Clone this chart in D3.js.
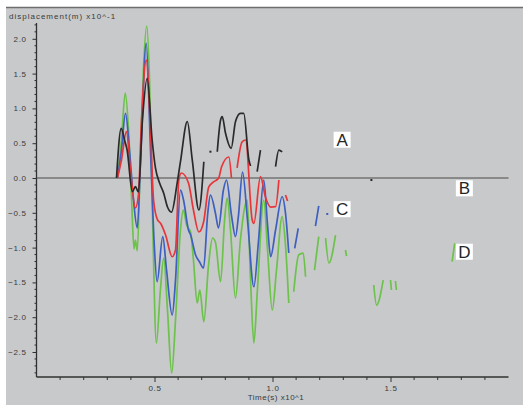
<!DOCTYPE html>
<html>
<head>
<meta charset="utf-8">
<script src="https://cdn.jsdelivr.net/npm/d3@7"></script>
<style>
  html, body { margin: 0; padding: 0; background: #ffffff; }
  svg { display: block; }
  text { font-family: "Liberation Sans", Arial, sans-serif; }
</style>
</head>
<body>
<svg id="chart" width="523" height="405"></svg>
<script>
// Displacement traces: [time (s x10^1), displacement (m x10^-1)], null breaks a trace.
const traceA = [
  [0.339, 0], [0.359, 0.714], [0.373, 0.546], [0.384, 0.402], [0.406, -0.197],
  [0.419, -0.125], [0.432, -0.201], [0.449, 0.833], [0.469, 1.432], [0.490, 0.546],
  [0.504, 0.144], [0.522, -0.076], [0.539, -0.220], [0.555, -0.417], [0.572, -0.489],
  [0.596, -0.072], [0.610, 0.234], [0.639, 0.809], [0.660, 0.259], [0.688, -0.460],
  [0.709, 0.234], null,
  [0.737, 0.378], null,
  [0.766, 0.378], [0.780, 0.833], [0.787, 0.881],
  [0.801, 0.642], [0.825, 0.427], [0.843, 0.809], [0.864, 0.930], [0.878, 0.930],
  [0.900, 0.259], [0.907, 0.172], null,
  [0.935, 0.091], [0.949, 0.402], null,
  [1.013, 0.162], [1.027, 0.402], [1.041, 0.374], null,
  [1.419, -0.029]
];
const traceB = [
  [0.343, 0], [0.360, 0.259], [0.381, 0.665], [0.398, 0.115], [0.419, -0.431],
  [0.432, -0.244], [0.445, 0.833], [0.465, 1.695], [0.483, 0.690], [0.496, -0.316],
  [0.513, -0.603], [0.525, -0.647], [0.547, -0.819], [0.575, -1.131], [0.589, -1.034],
  [0.603, -0.029], [0.614, 0.072], [0.644, -0.072], [0.665, -0.460], [0.688, -0.776],
  [0.708, -0.632], [0.730, -0.129], [0.750, -0.057], [0.772, 0], [0.784, 0.158],
  [0.815, 0.302], [0.826, 0], null,
  [0.850, 0.144], [0.871, 0.517], [0.886, 0.546], [0.914, -0.603], [0.921, -0.651],
  [0.949, 0.019], [0.970, -0.273], [0.992, -0.417], [1.013, -0.412], [1.027, -0.029], null,
  [1.055, -0.244], [1.064, -0.330]
];
const traceC = [
  [0.343, 0], [0.360, 0.402], [0.377, 0.930], [0.394, 0.402], [0.411, -0.316],
  [0.427, -0.718], [0.441, 0.259], [0.465, 1.935], [0.483, 0.402], [0.498, -0.891],
  [0.511, -1.490], [0.535, -0.843], [0.551, -1.322], [0.575, -1.968], [0.589, -1.466],
  [0.610, -0.172], [0.623, -0.316], [0.644, -0.747], [0.653, -0.819], [0.674, -1.106],
  [0.691, -1.207], [0.708, -1.293], [0.725, -0.532], [0.737, -0.244], [0.758, -0.503],
  [0.771, -0.718], [0.792, -0.172], [0.805, -0.029], [0.826, -0.532], [0.843, -0.843],
  [0.856, -0.532], [0.873, 0.086], [0.894, -0.603], [0.921, -1.562], [0.941, -0.891],
  [0.963, -0.029], [0.979, -0.675], [0.992, -1.131], [1.013, -0.747], [1.041, -0.269],
  [1.055, -0.503], [1.069, -1.078], null,
  [1.094, -1.010], [1.109, -0.723], null,
  [1.182, -0.690], [1.196, -0.402], null,
  [1.232, -0.517]
];
const traceD = [
  [0.343, 0], [0.360, 0.546], [0.376, 1.221], [0.390, 0.690], [0.403, -0.316],
  [0.413, -1.020], [0.419, -0.891], [0.427, -1.045], [0.441, 0.402], [0.453, 1.552],
  [0.467, 2.184], [0.479, 1.408], [0.492, -0.603], [0.508, -2.371], [0.525, -1.609],
  [0.539, -1.149], [0.555, -1.897], [0.573, -2.802], [0.589, -2.040], [0.610, -0.747],
  [0.622, -0.460], [0.636, -0.675], [0.653, -0.776], [0.665, -1.178], [0.681, -1.796],
  [0.692, -1.609], [0.709, -2.065], [0.729, -1.250], [0.746, -0.862], [0.758, -0.920],
  [0.780, -1.490], [0.797, -0.603], [0.808, -0.287], [0.822, -0.747], [0.843, -1.724],
  [0.864, -0.891], [0.893, -0.316], [0.907, -1.466], [0.921, -2.371], [0.936, -1.609],
  [0.963, -0.316], [0.979, -1.034], [0.999, -1.897], [1.017, -1.322], [1.041, -0.556],
  [1.055, -0.963], [1.069, -1.796], null,
  [1.090, -1.634], [1.111, -1.106], [1.130, -1.078], [1.140, -1.418], null,
  [1.178, -1.322], [1.196, -0.843], null,
  [1.225, -0.862], [1.239, -1.221], [1.267, -0.819], null,
  [1.309, -1.034], [1.314, -1.121], null,
  [1.429, -1.537], [1.441, -1.825], [1.469, -1.466], null,
  [1.500, -1.466], [1.504, -1.609], null,
  [1.521, -1.480], [1.525, -1.609], null,
  [1.761, -1.203], [1.772, -0.938]
];
const traceNames = ["A", "B", "C", "D"];
const xMajorTicks = [0.5, 1.0, 1.5];
const yMajorTicks = [2.0, 1.5, 1.0, 0.5, 0.0, -0.5, -1.0, -1.5, -2.0, -2.5];
const xTitle = "Time(s) x10^1";
const yTitle = "displacement(m) x10^-1";

// Trace label anchors, in axis units
const tagAnchors = { A: [1.295, 0.55], B: [1.813, -0.148], C: [1.295, -0.448], D: [1.813, -1.059] };
const traceColors = { A: "#2a2a2a", B: "#e8353a", C: "#3d5fbf", D: "#6cc24a" };

const svg = d3.select("#chart");
const W = 523, H = 405;

// panel background with white margin strips
svg.append("rect").attr("width", W).attr("height", H).attr("fill", "#ffffff");
svg.append("rect").attr("x", 6).attr("y", 8).attr("width", W - 6).attr("height", H - 8).attr("fill", "#c8c9cb");
svg.append("line").attr("x1", 6).attr("x2", W).attr("y1", 7.5).attr("y2", 7.5)
  .attr("stroke", "#6e6e6e").attr("stroke-width", 1.6);

const x = d3.scaleLinear().domain([0, 2.0]).range([36.5, 508.5]);
const y = d3.scaleLinear().domain([-2.859, 2.227]).range([377, 23]);

const axisColor = "#303030";

// x axis (bottom)
const xAxis = d3.axisBottom(x).tickValues(xMajorTicks).tickSize(5).tickPadding(3)
  .tickFormat(d3.format(".1f"));
const gx = svg.append("g").attr("transform", `translate(0,${y.range()[0]})`).call(xAxis);
gx.select(".domain").remove();
const xMinor = d3.range(1, 20).map(i => i / 10).filter(v => !xMajorTicks.some(m => Math.abs(m - v) < 1e-9));
gx.selectAll(".minor").data(xMinor).join("line").attr("class", "minor")
  .attr("x1", d => x(d)).attr("x2", d => x(d)).attr("y1", 0).attr("y2", 3);

// y axis (left)
const yAxis = d3.axisLeft(y).tickValues(yMajorTicks).tickSize(4).tickPadding(6)
  .tickFormat(d => d3.format(".1f")(d).replace("-", "\u2212"));
const gy = svg.append("g").attr("transform", `translate(${x.range()[0]},0)`).call(yAxis);
gy.select(".domain").remove();
const yMinor = d3.range(-28, 23).map(i => i / 10).filter(v => !yMajorTicks.some(m => Math.abs(m - v) < 1e-9));
gy.selectAll(".minor").data(yMinor).join("line").attr("class", "minor")
  .attr("x1", -2).attr("x2", 0).attr("y1", d => y(d)).attr("y2", d => y(d));

[gx, gy].forEach(g => {
  g.selectAll("line").attr("stroke", axisColor).attr("stroke-width", 1);
  g.selectAll("text").attr("fill", "#3a3a3a").style("font-size", "8px").style("letter-spacing", "0.6px")
    .attr("font-family", "'Liberation Sans', Arial, sans-serif");
});

// axis lines
svg.append("line").attr("x1", x.range()[0]).attr("x2", x.range()[0])
  .attr("y1", y.range()[1]).attr("y2", y.range()[0]).attr("stroke", axisColor).attr("stroke-width", 1.3);
svg.append("line").attr("x1", x.range()[0]).attr("x2", x.range()[1])
  .attr("y1", y.range()[0]).attr("y2", y.range()[0]).attr("stroke", axisColor).attr("stroke-width", 1.3);
// zero reference line
svg.append("line").attr("x1", x.range()[0]).attr("x2", x.range()[1])
  .attr("y1", y(0)).attr("y2", y(0)).attr("stroke", "#4a4a4a").attr("stroke-width", 1.2);

// titles
svg.append("text").attr("x", 9).attr("y", 18.5).text(yTitle)
  .attr("fill", "#3a3a3a").style("font-size", "8px").style("letter-spacing", "1px");
svg.append("text").attr("x", 276).attr("y", 399.5).attr("text-anchor", "middle").text(xTitle)
  .attr("fill", "#3a3a3a").style("font-size", "8px").style("letter-spacing", "0.5px");

// traces
const line = d3.line().defined(d => d !== null).x(d => x(d[0])).y(d => y(d[1]))
  .curve(d3.curveMonotoneX);
const traces = { A: traceA, B: traceB, C: traceC, D: traceD };
const drawOrder = ["D", "C", "B", "A"];
const plot = svg.append("g");
drawOrder.forEach(name => {
  const data = traces[name];
  plot.append("path").attr("d", line(data)).attr("fill", "none")
    .attr("stroke", traceColors[name]).attr("stroke-width", 1.7).attr("stroke-linejoin", "round");
  // isolated samples
  const lone = data.filter((d, i) => d !== null && (i === 0 || data[i - 1] === null) && (i === data.length - 1 || data[i + 1] === null));
  plot.selectAll(null).data(lone).join("rect")
    .attr("x", d => x(d[0]) - 1).attr("y", d => y(d[1]) - 1).attr("width", 2).attr("height", 2)
    .attr("fill", traceColors[name]);
});

// trace tags
traceNames.forEach(name => {
  const [tx, ty] = tagAnchors[name];
  const cx = x(tx), cy = y(ty);
  svg.append("rect").attr("x", cx - 8.5).attr("y", cy - 8).attr("width", 17).attr("height", 16).attr("fill", "#ffffff");
  svg.append("text").attr("x", cx).attr("y", cy + 6).attr("text-anchor", "middle").text(name)
    .attr("fill", "#262626").style("font-size", "17px");
});
</script>
</body>
</html>
